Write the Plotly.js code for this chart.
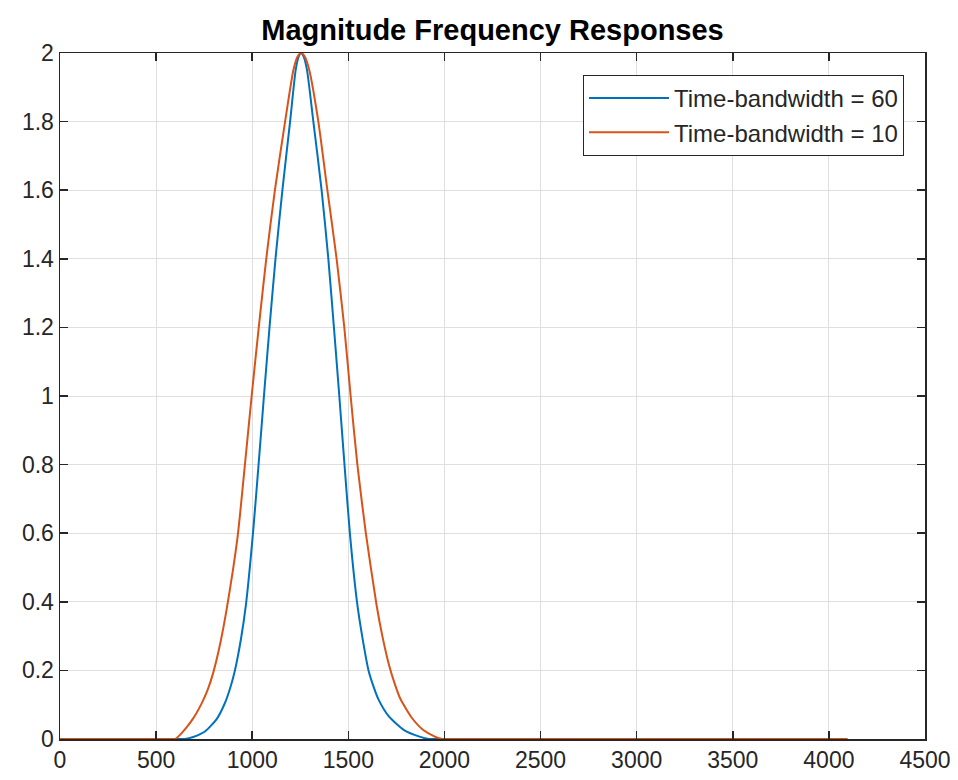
<!DOCTYPE html>
<html>
<head>
<meta charset="utf-8">
<script src="https://cdn.plot.ly/plotly-3.0.1.min.js"></script>
<style>html,body{margin:0;padding:0;background:#fff;}#chart{width:958px;height:780px;}</style>
</head>
<body>
<div id="chart"></div>
<script>
// Frequency (Hz) and magnitude
var freqTBW60 = [0, 200, 400, 550, 620, 650, 693, 754, 815, 858, 885, 910, 941, 967, 1004, 1033, 1061, 1090, 1121, 1157, 1197, 1226, 1242, 1254, 1267, 1285, 1318, 1361, 1396, 1425, 1453, 1480, 1508, 1545, 1572, 1605, 1633, 1658, 1712, 1790, 1870, 1920, 1960, 2050, 2500, 3000, 3500, 4096];
var magTBW60  = [0, 0, 0, 0, 0, 0, 0.006, 0.022, 0.058, 0.105, 0.148, 0.2, 0.29, 0.39, 0.6, 0.8, 1.0, 1.2, 1.4, 1.6, 1.8, 1.95, 1.99, 2.0, 1.99, 1.95, 1.8, 1.6, 1.4, 1.2, 1.0, 0.8, 0.6, 0.4, 0.3, 0.2, 0.15, 0.114, 0.065, 0.026, 0.007, 0, 0, 0, 0, 0, 0, 0];

var freqTBW10 = [0, 200, 400, 520, 570, 600, 615, 650, 693, 737, 768, 798, 836, 869, 924, 962, 997, 1034, 1073, 1118, 1171, 1214, 1236, 1254, 1273, 1297, 1344, 1391, 1439, 1479, 1512, 1547, 1591, 1647, 1677, 1712, 1742, 1770, 1830, 1890, 1950, 1990, 2030, 2100, 2500, 3000, 3500, 4096];
var magTBW10  = [0, 0, 0, 0, 0, 0, 0.007, 0.028, 0.06, 0.104, 0.143, 0.195, 0.285, 0.385, 0.59, 0.8, 1.0, 1.2, 1.4, 1.6, 1.8, 1.95, 1.99, 2.0, 1.99, 1.95, 1.8, 1.6, 1.4, 1.2, 1.0, 0.8, 0.6, 0.39, 0.3, 0.215, 0.16, 0.118, 0.062, 0.026, 0.007, 0, 0, 0, 0, 0, 0, 0];

var seriesNames = ['Time-bandwidth = 60', 'Time-bandwidth = 10'];
var seriesColors = ['#0072BD', '#D95319'];
var xTicks = [0, 500, 1000, 1500, 2000, 2500, 3000, 3500, 4000, 4500];
var yTicks = [0, 0.2, 0.4, 0.6, 0.8, 1, 1.2, 1.4, 1.6, 1.8, 2];
var chartTitle = 'Magnitude Frequency Responses';

var FONT = '"Liberation Sans", Arial, Helvetica, sans-serif';
var INK = '#262626';

var traces = [
  {x: freqTBW60, y: magTBW60, name: seriesNames[0], type: 'scatter', mode: 'lines',
   line: {color: seriesColors[0], width: 2, shape: 'spline', smoothing: 0.6}},
  {x: freqTBW10, y: magTBW10, name: seriesNames[1], type: 'scatter', mode: 'lines',
   line: {color: seriesColors[1], width: 2, shape: 'spline', smoothing: 0.6}}
];

var axisCommon = {
  showline: true, linecolor: INK, linewidth: 1.5, mirror: 'ticks',
  ticks: 'inside', ticklen: 8, tickwidth: 1.5, tickcolor: INK,
  showgrid: true, gridcolor: '#dfdfdf', gridwidth: 1,
  zeroline: false,
  tickfont: {family: FONT, size: 23, color: INK}
};

var layout = {
  width: 958, height: 780,
  margin: {l: 60, r: 33, t: 53, b: 41},
  paper_bgcolor: '#ffffff', plot_bgcolor: '#ffffff',
  title: {text: chartTitle, font: {family: FONT, size: 29, color: '#000000', weight: 'bold'},
          x: 0.5, xref: 'paper', xanchor: 'center', y: 1 - 30/780, yref: 'container', yanchor: 'middle'},
  xaxis: Object.assign({}, axisCommon, {range: [0, 4500], tickvals: xTicks, ticktext: xTicks.map(String)}),
  yaxis: Object.assign({}, axisCommon, {range: [0, 2], tickvals: yTicks, ticktext: yTicks.map(String)}),
  showlegend: true,
  legend: {x: (904 - 60) / 865, xanchor: 'right', y: (739 - 75) / 686, yanchor: 'top',
           bgcolor: '#ffffff', bordercolor: INK, borderwidth: 1,
           font: {family: FONT, size: 24, color: INK}, itemwidth: 80, tracegroupgap: 0}
};

Plotly.newPlot('chart', traces, layout, {displayModeBar: false, staticPlot: true});
</script>
</body>
</html>
